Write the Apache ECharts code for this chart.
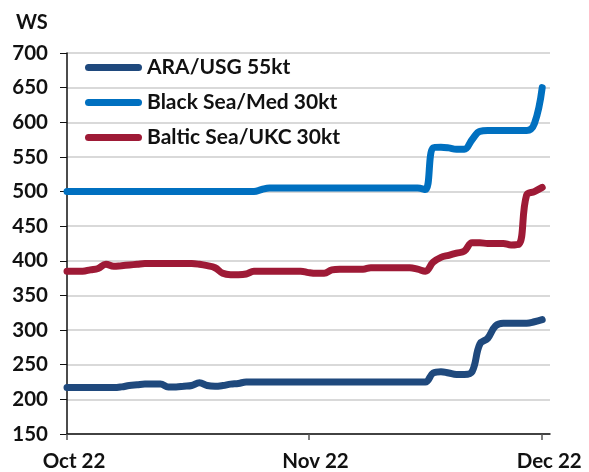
<!DOCTYPE html>
<html>
<head>
<meta charset="utf-8">
<script src="https://cdn.jsdelivr.net/npm/echarts@6/dist/echarts.min.js"></script>
<style>
  html, body { margin: 0; padding: 0; background: #fff; }
  #chart { width: 589px; height: 472px; }
</style>
</head>
<body>
<div id="chart"></div>
<script>
// days counted from 1 Oct 2022
var days = [];
for (var i = 0; i <= 61; i++) days.push(i);

var xTickDays = [0, 31, 61];
var xTickLabels = ['Oct 22', 'Nov 22', 'Dec 22'];

var seriesNames = ['ARA/USG 55kt', 'Black Sea/Med 30kt', 'Baltic Sea/UKC 30kt'];

var araUsg = [
  217, 217, 217, 217, 217, 217, 217, 218, 220, 221,
  222, 222, 222, 218, 218, 219, 220, 224, 220, 219,
  220, 222, 223, 225, 225, 225, 225, 225, 225, 225,
  225, 225, 225, 225, 225, 225, 225, 225, 225, 225,
  225, 225, 225, 225, 225, 225, 225, 238, 240, 238,
  236, 236, 240, 280, 288, 306, 310, 310, 310, 310,
  312, 315
];

var blackSeaMed = [
  500, 500, 500, 500, 500, 500, 500, 500, 500, 500,
  500, 500, 500, 500, 500, 500, 500, 500, 500, 500,
  500, 500, 500, 500, 500, 503, 505, 505, 505, 505,
  505, 505, 505, 505, 505, 505, 505, 505, 505, 505,
  505, 505, 505, 505, 505, 505, 503, 563, 564, 563,
  561, 561, 575, 587, 588, 588, 588, 588, 588, 588,
  598, 650
];

var balticUkc = [
  385, 385, 385, 387, 389, 395, 392, 393, 394, 395,
  396, 396, 396, 396, 396, 396, 396, 395, 393, 390,
  382, 380, 380, 381, 385, 385, 385, 385, 385, 385,
  385, 383, 382, 382, 387, 388, 388, 388, 388, 390,
  390, 390, 390, 390, 390, 388, 385, 398, 405, 408,
  411, 414, 426, 426, 425, 425, 425, 423, 424, 495,
  500, 506
];

var colors = ['#1f497d', '#0070c0', '#9e1a36'];

function pairs(vals){
  return vals.map(function(v, i){ return [days[i], v] })
}

var myChart = echarts.init(document.getElementById('chart'));
var font = 'Lato, "DejaVu Sans", sans-serif';

var seriesData = [araUsg, blackSeaMed, balticUkc];
var series = seriesData.map(function(vals, i){
  return {
    name: seriesNames[i],
    type: 'line',
    data: pairs(vals),
    symbol: 'none',
    smooth: 0.4,
    lineStyle: { color: colors[i], width: 7, cap: 'round', join: 'round' },
    itemStyle: { color: colors[i] },
    z: 3 - i
  }
});

var option = {
  animation: false,
  backgroundColor: '#fff',
  title: {
    text: 'WS',
    left: 16,
    top: 13,
    padding: 0,
    textStyle: { fontFamily: font, fontSize: 20, fontWeight: 'bold', color: '#111' }
  },
  grid: { left: 67, right: 39, top: 53, bottom: 37 },
  legend: {
    orient: 'vertical',
    left: 85,
    top: 57,
    padding: 0,
    itemWidth: 57,
    itemHeight: 7,
    itemGap: 14,
    itemTextGap: 4,
    icon: 'path://M3.5,0 L53.5,0 A3.5,3.5 0 0 1 53.5,7 L3.5,7 A3.5,3.5 0 0 1 3.5,0 Z',
    data: seriesNames,
    textStyle: { fontFamily: font, fontSize: 21, fontWeight: 'bold', color: '#111', lineHeight: 21 }
  },
  xAxis: {
    type: 'value',
    min: 0,
    max: 62,
    axisLine: { show: true, lineStyle: { color: '#111', width: 1.5 } },
    axisTick: { show: true, length: 6, customValues: xTickDays, lineStyle: { color: '#555', width: 1.5 } },
    axisLabel: {
      customValues: xTickDays,
      margin: 17,
      padding: [0, 0, 0, 14],
      fontFamily: font, fontSize: 20.5, fontWeight: 'bold', color: '#111',
      formatter: function(v){
        var k = xTickDays.indexOf(v);
        return k >= 0 ? xTickLabels[k] : '';
      }
    },
    splitLine: { show: false }
  },
  yAxis: {
    type: 'value',
    min: 150,
    max: 700,
    interval: 50,
    axisLine: { show: true, lineStyle: { color: '#111', width: 1.5 } },
    axisTick: { show: true, length: 7, lineStyle: { color: '#111', width: 1 } },
    axisLabel: { margin: 19, fontFamily: font, fontSize: 20.5, fontWeight: 'bold', color: '#111' },
    splitLine: { show: true, lineStyle: { color: '#cccccc', width: 1.5 } }
  },
  series: series
};

myChart.setOption(option);
</script>
</body>
</html>
